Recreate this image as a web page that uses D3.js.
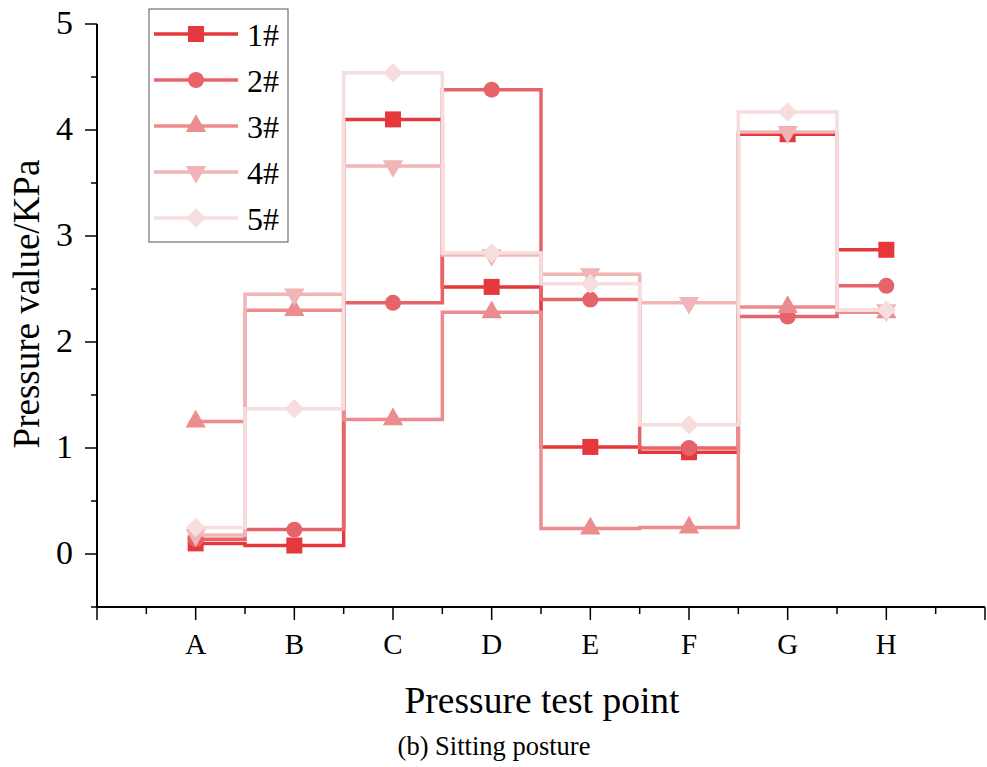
<!DOCTYPE html>
<html><head><meta charset="utf-8">
<script src="https://cdn.jsdelivr.net/npm/d3@7"></script>
<style>body{margin:0;background:#fff}svg{display:block}text{font-family:"Liberation Serif","Times New Roman",serif}</style>
</head><body><svg id="c" width="987" height="767"></svg>
<script>
const categories = ["A","B","C","D","E","F","G","H"];
const seriesNames = ["1#","2#","3#","4#","5#"];
const s1 = [0.10, 0.08, 4.10, 2.52, 1.01, 0.96, 3.96, 2.87];
const s2 = [0.14, 0.23, 2.37, 4.38, 2.40, 1.00, 2.24, 2.53];
const s3 = [1.25, 2.30, 1.27, 2.28, 0.24, 0.25, 2.33, 2.28];
const s4 = [0.18, 2.45, 3.66, 2.82, 2.64, 2.37, 3.98, 2.30];
const s5 = [0.25, 1.37, 4.54, 2.84, 2.55, 1.22, 4.17, 2.30];
const seriesValues = [s1, s2, s3, s4, s5];
const colors = ["#E5383C", "#E6636A", "#EB8C8F", "#F1B5B7", "#F6DDDE"];
const symbols = [d3.symbolSquare, d3.symbolCircle, d3.symbolTriangle, d3.symbolTriangle, d3.symbolSquare];
const rotations = [0, 0, 0, 180, 45];
const yTickLabels = [0,1,2,3,4,5];

const svg = d3.select("#c");
const x = d3.scaleLinear().domain([0, 9]).range([97, 985]);
const y = d3.scaleLinear().domain([-0.5, 5]).range([607, 24]);

// axes
const xMinor = d3.range(0, 9.01, 0.5);
const gx = svg.append("g").attr("transform", "translate(0,607)");
gx.append("line").attr("x1", 97).attr("x2", 985).attr("stroke", "#000").attr("stroke-width", 2);
gx.selectAll(".t").data(xMinor).join("line")
  .attr("x1", d => x(d)).attr("x2", d => x(d))
  .attr("y1", 0).attr("y2", d => Number.isInteger(d) ? 13 : 7)
  .attr("stroke", "#000").attr("stroke-width", 1.5);
gx.selectAll(".l").data(categories).join("text")
  .attr("x", (d, i) => x(i + 1)).attr("y", 47)
  .attr("text-anchor", "middle").attr("font-size", 29).text(d => d);

const gy = svg.append("g");
gy.append("line").attr("x1", 97).attr("x2", 97).attr("y1", y(5)).attr("y2", 607).attr("stroke", "#000").attr("stroke-width", 2);
const yMinor = d3.range(-0.5, 5.01, 0.5);
gy.selectAll(".t").data(yMinor).join("line")
  .attr("x1", 97).attr("x2", d => Number.isInteger(d) ? 85 : 91)
  .attr("y1", d => y(d)).attr("y2", d => y(d))
  .attr("stroke", "#000").attr("stroke-width", 1.5);
gy.selectAll(".l").data(yTickLabels).join("text")
  .attr("x", 73).attr("y", d => y(d) + 10)
  .attr("text-anchor", "end").attr("font-size", 34).text(d => d);

// titles
svg.append("text").attr("transform", "translate(39,304) rotate(-90)")
  .attr("text-anchor", "middle").attr("font-size", 37).text("Pressure value/KPa");
svg.append("text").attr("x", 542).attr("y", 713)
  .attr("text-anchor", "middle").attr("font-size", 37.5).text("Pressure test point");
svg.append("text").attr("x", 494).attr("y", 755)
  .attr("text-anchor", "middle").attr("font-size", 26.5).text("(b) Sitting posture");

// series
const line = d3.line().x((d, i) => x(i + 1)).y(d => y(d)).curve(d3.curveStep);
const sizes = [256, 200, 180, 180, 190];
const sym = (k) => d3.symbol().type(symbols[k]).size(sizes[k]);
seriesValues.forEach((vals, k) => {
  const g = svg.append("g");
  g.append("path").attr("d", line(vals)).attr("fill", "none")
    .attr("stroke", colors[k]).attr("stroke-width", 3.5);
  g.selectAll("path.m").data(vals).join("path").attr("class", "m")
    .attr("d", sym(k)())
    .attr("transform", (d, i) => `translate(${x(i + 1)},${y(d)}) rotate(${rotations[k]})`)
    .attr("fill", colors[k]);
});

// legend
const lg = svg.append("g");
lg.append("rect").attr("x", 149).attr("y", 9).attr("width", 139).attr("height", 233)
  .attr("fill", "#fff").attr("stroke", "#555").attr("stroke-width", 1);
seriesNames.forEach((n, k) => {
  const yy = 34 + k * 46;
  lg.append("line").attr("x1", 154).attr("x2", 238).attr("y1", yy).attr("y2", yy)
    .attr("stroke", colors[k]).attr("stroke-width", 3.5);
  lg.append("path").attr("d", sym(k)())
    .attr("transform", `translate(196,${yy}) rotate(${rotations[k]})`).attr("fill", colors[k]);
  lg.append("text").attr("x", 247).attr("y", yy + 12).attr("font-size", 32).text(n);
});
</script></body></html>
